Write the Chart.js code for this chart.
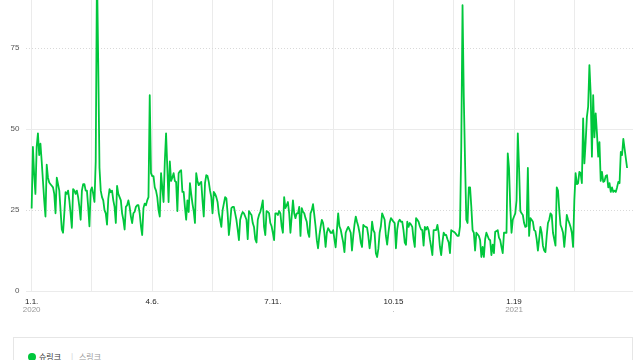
<!DOCTYPE html>
<html><head><meta charset="utf-8">
<script src="https://cdn.jsdelivr.net/npm/chart.js@4.4.1/dist/chart.umd.min.js"></script>
<style>
html,body{margin:0;padding:0;background:#fff;width:640px;height:360px;overflow:hidden;position:relative}
#wrap{position:absolute;left:0;top:-44px;width:640px;height:364px}
#legend{position:absolute;left:13px;top:337px;width:620px;height:40px;border:1px solid #e6e6e6;box-sizing:border-box;background:#fff}
#legend .dot{position:absolute;left:14px;top:15px;width:8px;height:8px;border-radius:50%;background:#00c73c}
#legend .t{position:absolute;top:14px;font-family:"Noto Sans CJK KR";font-size:8px;line-height:10px;white-space:nowrap}
</style></head>
<body>
<div id="wrap"><canvas id="c"></canvas></div>
<div id="legend"><span class="dot"></span><span class="t" style="left:25px;color:#333">슈링크</span><span class="t" style="left:57px;color:#ccc">|</span><span class="t" style="left:65px;color:#999">스링크</span></div>
<script>
// daily values from 2020-01-01
const values = [
25.5,44.5,36,30,44.5,48.7,42,45.5,40,34,
28,23,39,35,33.5,33,32.5,32,30,24,
35,33,31,25,19,18,24,30.5,30,31,
28,24,19.5,31.5,31,30,31,29,26,22,
31,33,33,31,31,26,20,31,32,30,
27.5,40,100,70,38,31,29,28,25,24,
20.5,28.5,31.5,30.5,31,28,26,21,32.5,30,
29,28,24,22,19,26,26.5,28,26,23,
21,24,24.5,26,26.5,26.5,24,20,17.3,25.6,
27,26.5,28,29,60.5,36.4,35.5,35.5,32,31,
29,25,23,36.4,32,27.5,40,48.7,38,27.5,
40,34,35,36.4,34,33.7,24.7,36.4,37,37.3,
30.6,30.6,26,22,28,24.4,33.3,30,27,24.7,
21,36.4,34,32.7,33.3,33.7,28,23,33.3,35.8,
35.5,33.7,31,29,24,30.6,30,29,27.5,24,
22,19.8,25,27,29,28.6,24,17.3,21,25.6,
26,26,24,22,19,15.7,22,23.5,24.4,24,
23,22,16,24.7,24,23.5,21,19.8,16,15,
22,23.5,24.4,26,28,19.8,17.3,24.7,24.5,24,
21,20,18,15.7,24,24,23.5,24.7,24,20,
18,29,25.6,26.5,27.5,24,18,23,28,24,
22.5,24,24,26,17,25.6,24.5,24,22.5,21.4,
18,16.7,24,25,26.8,23.5,20,15.7,13.2,17,
19.8,22,21,18,13.6,18,19.4,18.8,18,18,
18.8,16,13.5,18.8,24,20,19,17,15,12,
18,19,19.8,19,18,12.5,17,20.5,23,21.4,
20,18,15,13.6,20.4,20,19.8,19.6,17,13.2,
16,21.4,18.8,18,11.7,10.5,13,18,20,24,
23,22,17,14.3,18,21,22.5,22,21.4,21,
13.2,19,21.4,22,21.4,21.4,18.8,15,14.3,21.4,
19.8,21,20.5,19.8,16,13.6,22.5,22,21.4,20,
19,18.8,14,19.8,19,19.8,18.8,16,13.6,11.1,
18.8,18.8,18.8,20.4,18,13.6,11.1,15,18,17.3,
17.3,16,15,11.7,18.8,18.5,18.3,18,17.5,17,
17,20,45,88.3,60,40,22,21,32,32,
26,18.8,18,12.5,18,17.5,17,15.7,10.5,13.6,
10.5,16,18,17,16,15.7,11.1,14.3,11.7,18.3,
18.5,18.8,16.5,15.7,13.6,11.7,18,18,18,42.5,
38,26,18,22,23,24,28,48.7,38,24.7,
24,23.5,21,19.8,20,38,17,22.5,22,21.4,
18.8,18.5,16,12.5,16,19.8,18,14,12.5,12,
17,21,22,24,23.5,18,16,14,32,31,
25,20.4,19.4,18,13.6,18,23.5,22,21,19.8,
18,13.6,28,36.4,33,33.3,36.8,36.4,33.3,53.3,
39.4,46,53.8,57,69.8,61,41.5,60.5,47.5,54.9,
48.7,41.5,46,34,36.8,33.7,34,35.5,35.8,32,
33.3,30.6,32,30.6,31,30.6,32,33.7,33.3,43,
42,47,44,41,38
];
const dateLabels = ["1.1.","","4.6.","","7.11.","","10.15","","1.19",""];
const yearLabels = ["2020","","","","","",".","","2021",""];
const seriesName = "슈링크";
const otherName = "스링크";

const pts = values.map((v,i)=>({x:i,y:v}));
const FONT = "'Liberation Sans Narrow', 'Liberation Sans', sans-serif";

const yearPlugin = {
  id: 'yearLabels',
  afterDraw(chart) {
    const sx = chart.scales.x, ctx = chart.ctx;
    ctx.save();
    ctx.fillStyle = '#999';
    ctx.font = "8px " + FONT;
    ctx.textAlign = 'center';
    ctx.textBaseline = 'middle';
    sx.ticks.forEach((t, i) => {
      const s = yearLabels[i];
      if (s) ctx.fillText(s, sx.getPixelForValue(t.value), chart.chartArea.bottom + 19);
    });
    ctx.restore();
  }
};

new Chart(document.getElementById('c'), {
  type: 'line',
  data: { datasets: [{ label: seriesName, data: pts, borderColor: '#00c73c', borderWidth: 1.8, pointRadius: 0, tension: 0, fill: false, borderJoinStyle: 'round' }] },
  options: {
    responsive: true, maintainAspectRatio: false, animation: false,
    layout: { padding: { left: 0, right: 7, top: 3, bottom: 8 } },
    plugins: { legend: { display: false }, tooltip: { enabled: false } },
    scales: {
      x: {
        type: 'linear', min: -4.5, max: 478.7,
        afterBuildTicks: s => { s.ticks = s.ticks.filter(t => t.value >= 0 && t.value <= values.length - 1); },
        ticks: { stepSize: 48, includeBounds: false, autoSkip: false, maxRotation: 0, padding: 6.5, color: '#222',
                 font: { family: FONT, size: 8, lineHeight: 1 },
                 callback: (v, i) => dateLabels[i] },
        grid: { color: '#ebebeb', lineWidth: 1, drawTicks: false },
        border: { display: false }
      },
      y: {
        min: 0, max: 100,
        afterFit: s => { s.width = 26; },
        ticks: { stepSize: 25, padding: 6.5, color: '#555', font: { family: FONT, size: 8 } },
        grid: { drawTicks: false, color: c => (c.tick && c.tick.value % 50 === 0) ? '#ebebeb' : '#d9d9d9' },
        border: { display: false, dash: c => (c.tick && c.tick.value % 50 !== 0) ? [1, 2] : [] }
      }
    }
  },
  plugins: [yearPlugin]
});
</script>
</body></html>
